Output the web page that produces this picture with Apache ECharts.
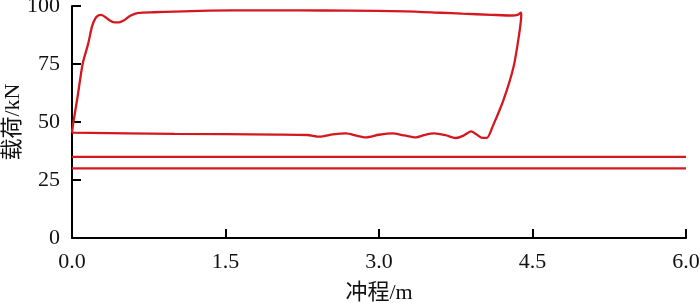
<!DOCTYPE html>
<html>
<head>
<meta charset="utf-8">
<script src="https://cdn.jsdelivr.net/npm/echarts@6/dist/echarts.min.js"></script>
<style>html,body{margin:0;padding:0;background:#fff}#c{width:700px;height:303px}</style>
</head>
<body>
<div id="c"></div>
<script>
// Data
var xTicks = [0, 1.5, 3.0, 4.5, 6.0];
var yTicks = [0, 25, 50, 75, 100];
var loopX = [0, 0.013, 0.055, 0.104, 0.159, 0.195, 0.23, 0.26, 0.285, 0.32, 0.37, 0.42, 0.46, 0.5, 0.57, 0.65, 0.8, 1.0, 1.34, 1.8, 2.22, 2.7, 3.26, 3.6, 3.81, 4.1, 4.3, 4.36, 4.385, 4.39, 4.37, 4.315, 4.217, 4.11, 4.055, 4.0, 3.9, 3.82, 3.75, 3.65, 3.54, 3.45, 3.36, 3.25, 3.13, 3.0, 2.87, 2.78, 2.68, 2.55, 2.42, 2.3, 2.0, 1.0, 0];
var loopY = [45.4, 49.7, 61, 75, 83.9, 91.1, 94.8, 96.0, 96.2, 95.4, 93.8, 92.9, 92.9, 93.6, 95.8, 97, 97.3, 97.6, 98.0, 98.1, 98.1, 98.0, 97.7, 97.1, 96.7, 96.2, 95.9, 96.3, 97.1, 96, 88, 73.8, 59.5, 48, 43.2, 43.3, 46, 44, 43.1, 44.3, 45.1, 44.5, 43.4, 44.2, 45.1, 44.5, 43.4, 44.1, 45.1, 44.7, 43.7, 44.4, 44.6, 44.9, 45.4];
var line1X = [0, 6.0];
var line1Y = [35, 35];
var line2X = [0, 6.0];
var line2Y = [30, 30];

function pairs(xs, ys) { return xs.map(function (x, i) { return [x, ys[i]]; }); }

var red = '#d4181f';
var fontFam = "'Liberation Serif', 'Noto Sans CJK SC', serif";
var chart = echarts.init(document.getElementById('c'), null, {renderer: 'canvas'});
chart.setOption({
  animation: false,
  grid: {left: 72, right: 14, top: 6, bottom: 65, containLabel: false, outerBoundsMode: 'none'},
  xAxis: {
    type: 'value', min: xTicks[0], max: xTicks[xTicks.length - 1], interval: 1.5,
    name: '冲程/m', nameLocation: 'middle', nameGap: 44, nameMoveOverlap: false,
    nameTextStyle: {fontFamily: fontFam, fontSize: 22, color: '#111'},
    axisLine: {show: true, lineStyle: {color: '#000', width: 2}},
    axisTick: {show: true, inside: true, length: 9, lineStyle: {color: '#000', width: 2}},
    axisLabel: {margin: 13, fontFamily: fontFam, fontSize: 22, color: '#111',
      formatter: function (v) { return v.toFixed(1); }},
    splitLine: {show: false}
  },
  yAxis: {
    type: 'value', min: yTicks[0], max: yTicks[yTicks.length - 1], interval: 25,
    name: '载荷/kN', nameLocation: 'middle', nameGap: 48, nameMoveOverlap: false,
    nameTextStyle: {fontFamily: fontFam, fontSize: 22, color: '#111'},
    axisLine: {show: true, lineStyle: {color: '#000', width: 2}},
    axisTick: {show: true, inside: true, length: 9, lineStyle: {color: '#000', width: 2}},
    axisLabel: {margin: 12, fontFamily: fontFam, fontSize: 22, color: '#111', padding: [6, 0, 0, 0]},
    splitLine: {show: false}
  },
  series: [
    {type: 'line', data: pairs(loopX, loopY), showSymbol: false, smooth: 0.25,
     lineStyle: {color: red, width: 2.3}},
    {type: 'line', data: pairs(line1X, line1Y), showSymbol: false,
     lineStyle: {color: red, width: 2.3}},
    {type: 'line', data: pairs(line2X, line2Y), showSymbol: false,
     lineStyle: {color: red, width: 2.3}}
  ]
});
</script>
</body>
</html>
